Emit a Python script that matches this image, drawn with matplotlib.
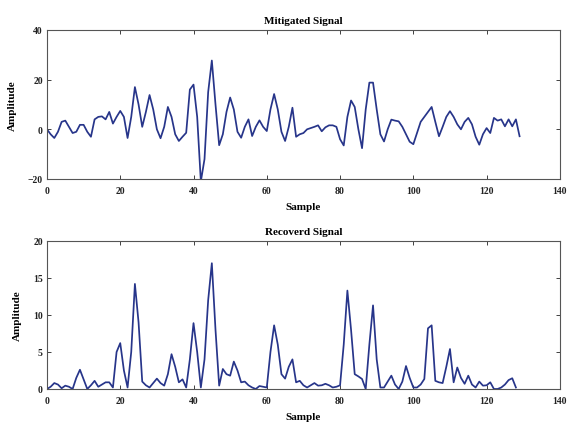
import matplotlib
matplotlib.use("Agg")
import matplotlib.pyplot as plt
import numpy as np

mitigated = [0, -2, -3.5, -1, 3, 3.5, 1, -1.5, -1, 1.8,
             1.8, -1, -3, 4, 5, 5.2, 4, 7, 2.3, 5,
             7.4, 5, -3.5, 5, 17, 10, 1, 7, 13.8, 8,
             0, -3.6, 1, 9, 5, -2, -4.7, -3, -1.4, 16,
             18, 5, -21, -12, 15, 27.7, 10, -6.4, -2, 7,
             12.8, 8, -1, -3.4, 1, 4, -2.7, 1, 3.6, 1,
             -0.7, 8, 14.2, 8, -1, -4.7, 1, 8.7, -3, -2,
             -1.5, 0, 0.5, 1, 1.6, -0.8, 0.8, 1.6, 1.6, 1,
             -4, -6.5, 5, 11.6, 9, 0, -7.6, 8, 18.8, 18.8,
             8, -2, -4.9, 0, 3.9, 3.5, 3.2, 1, -2, -5,
             -6, -1.5, 3, 5, 7, 9, 3, -2.8, 1, 5,
             7.3, 5, 2, 0, 3, 4.6, 2, -3, -6.2, -2,
             0.5, -1.5, 4.6, 3.5, 4, 1.2, 4, 1.2, 4, -2.8]

recovered = [0, 0.3, 0.8, 0.6, 0.1, 0.45, 0.3, 0, 1.5, 2.6,
             1.3, 0, 0.5, 1.1, 0.3, 0.6, 0.9, 0.9, 0.2, 5,
             6.2, 2.5, 0.2, 5, 14.2, 9, 1, 0.5, 0.2, 0.8,
             1.4, 0.8, 0.45, 2, 4.7, 3, 0.9, 1.3, 0.2, 4,
             8.9, 5, 0.2, 4, 12, 17, 8, 0.45, 2.7, 2,
             1.8, 3.7, 2.5, 0.9, 1, 0.5, 0.2, 0, 0.4, 0.3,
             0.2, 5, 8.6, 6, 2, 1.4, 3, 4, 0.9, 1.1,
             0.5, 0.2, 0.5, 0.8, 0.45, 0.5, 0.7, 0.5, 0.2, 0.3,
             0.5, 6, 13.3, 8, 2, 1.7, 1.35, 0, 6, 11.3,
             4, 0.2, 0.2, 1, 1.8, 0.6, 0, 1, 3.1, 1.5,
             0.2, 0.2, 0.6, 1.35, 8.2, 8.6, 1.1, 0.9, 0.8, 3,
             5.4, 0.9, 2.9, 1.5, 0.7, 1.8, 0.6, 0.2, 1, 0.45,
             0.5, 0.9, 0, 0, 0.2, 0.6, 1.2, 1.45, 0.2]

x_ticks = [0, 20, 40, 60, 80, 100, 120, 140]
top_yticks = [-20, 0, 20, 40]
bot_yticks = [0, 5, 10, 15, 20]

plt.rcParams['font.family'] = ['Liberation Serif', 'DejaVu Serif']
plt.rcParams['font.weight'] = 'bold'

fig = plt.figure(figsize=(5.68, 4.27), dpi=100)
ax1 = fig.add_axes([0.0827, 0.5785, 0.903, 0.349])
ax2 = fig.add_axes([0.0827, 0.0867, 0.903, 0.3466])

color = '#27358a'
panels = [
    (ax1, mitigated, "Mitigated Signal", (-20, 40), top_yticks),
    (ax2, recovered, "Recoverd Signal", (0, 20), bot_yticks),
]
for ax, data, title, ylim, yt in panels:
    ax.plot(np.arange(len(data)), data, color=color, lw=1.25)
    ax.set_xlim(0, 140)
    ax.set_ylim(*ylim)
    ax.set_xticks(x_ticks)
    ax.set_yticks(yt)
    ax.tick_params(direction='in', top=True, right=True, labelsize=7,
                   length=3, width=0.6, colors='#222222')
    ax.tick_params(axis='x', pad=5)
    ax.tick_params(axis='y', pad=3)
    for sp in ax.spines.values():
        sp.set_linewidth(0.8)
        sp.set_color('#555555')
    ax.set_title(title, fontsize=8, fontweight='bold', pad=5)
    ax.set_xlabel("Sample", fontsize=8, fontweight='bold', labelpad=5)
    ax.set_ylabel("Amplitude", fontsize=8, fontweight='bold', labelpad=8)
    for lab in ax.get_xticklabels() + ax.get_yticklabels():
        lab.set_fontweight('bold')

fig.savefig("out.png", dpi=100)
